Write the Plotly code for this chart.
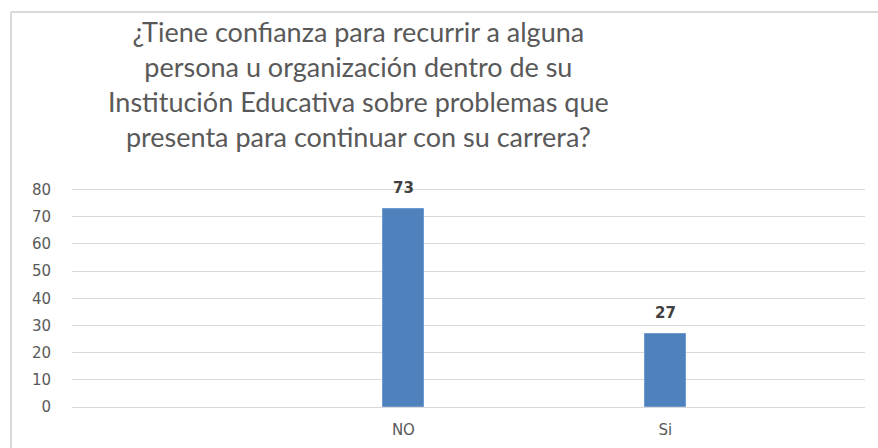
import plotly.graph_objects as go

# Survey answers and their counts
categories = ["NO", "Si"]
values = [73, 27]
y_ticks = [0, 10, 20, 30, 40, 50, 60, 70, 80]

title_text = ("¿Tiene confianza para recurrir a alguna<br>"
              "persona u organización dentro de su<br>"
              "Institución Educativa sobre problemas que<br>"
              "presenta para continuar con su carrera?")

W, H = 878, 448
Y_MAX = 80.6
L, R, B = 72, 13, 41
T = 190 - round(217 * (Y_MAX - 80) / 80)
plot_w = W - L - R
plot_h = H - T - B


def px_x(px):
    return (px - L) / plot_w


def px_y(py):
    return (H - B - py) / plot_h


fig = go.Figure()
fig.add_trace(go.Bar(
    x=categories,
    y=values,
    width=0.157,
    marker=dict(color="#4f81bd", line=dict(color="#6f9ad0", width=1)),
    hoverinfo="x+y",
))

# value labels above each bar
for c, v in zip(categories, values):
    fig.add_annotation(
        x=c, y=v, xref="x", yref="y", text=f"<b>{v}</b>", showarrow=False,
        yanchor="bottom", yshift=10,
        font=dict(family="DejaVu Sans", size=15, color="#404040"),
    )

# chart title
fig.add_annotation(
    x=px_x(358), y=px_y(84), xref="paper", yref="paper",
    text=title_text, showarrow=False, xanchor="center", yanchor="middle",
    align="center", font=dict(family="Lato", size=27, color="#595959"),
)

# chart frame (left and top edges)
frame = dict(color="#d9d9d9", width=2)
fig.add_shape(type="line", xref="paper", yref="paper",
              x0=px_x(11), x1=px_x(11), y0=px_y(12), y1=px_y(448), line=frame)
fig.add_shape(type="line", xref="paper", yref="paper",
              x0=px_x(11), x1=px_x(878), y0=px_y(12), y1=px_y(12), line=frame)

fig.update_layout(
    width=W, height=H,
    margin=dict(l=L, r=R, t=T, b=B),
    paper_bgcolor="white", plot_bgcolor="white",
    showlegend=False,
    bargap=0,
    xaxis=dict(
        type="category", range=[-1.265, 1.762], automargin=False,
        showgrid=False, showline=False, zeroline=False, ticks="",
        tickfont=dict(family="DejaVu Sans", size=15, color="#595959"),
        ticklabelstandoff=12,
    ),
    yaxis=dict(
        range=[0, Y_MAX], tickvals=y_ticks, automargin=False,
        showgrid=True, gridcolor="#d9d9d9", gridwidth=1,
        zeroline=True, zerolinecolor="#d9d9d9", zerolinewidth=1,
        showline=False, ticks="",
        tickfont=dict(family="DejaVu Sans", size=15, color="#595959"),
        ticklabelstandoff=20,
    ),
)

fig.write_html("out.html")
